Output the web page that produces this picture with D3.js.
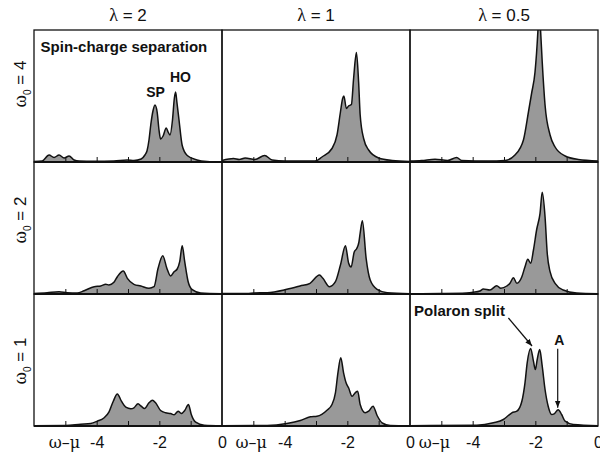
<!DOCTYPE html>
<html>
<head>
<meta charset="utf-8">
<script src="https://cdn.jsdelivr.net/npm/d3@7"></script>
<style>
  body { margin: 0; background: #fff; }
  svg { font-family: "Liberation Sans", Arial, Helvetica, sans-serif; }
  .greek { font-family: "Liberation Serif", "DejaVu Serif", serif; }
</style>
</head>
<body>
<svg id="chart" width="600" height="456"></svg>
<script>
// column / row headers
var lambdas = ['2', '1', '0.5'];
var omegas = ['4', '2', '1'];
var tickVals = [-5, -4, -3, -2, -1];
var tickLabelVals = [-4, -2, 0];

// spectra: [omega - mu, A(omega)]
var specL2W4 = [[-6, 0.005], [-5.74, 0.01], [-5.52, 0.07], [-5.36, 0.045], [-5.2, 0.07], [-5.04, 0.04], [-4.88, 0.06], [-4.72, 0.02], [-4.56, 0.01], [-4.08, 0.008], [-3.45, 0.01], [-3.03, 0.02], [-2.81, 0.015], [-2.58, 0.03], [-2.46, 0.07], [-2.39, 0.115], [-2.33, 0.22], [-2.27, 0.38], [-2.2, 0.515], [-2.14, 0.57], [-2.07, 0.5], [-2.01, 0.32], [-1.96, 0.23], [-1.88, 0.26], [-1.78, 0.34], [-1.72, 0.3], [-1.66, 0.27], [-1.58, 0.42], [-1.52, 0.64], [-1.48, 0.7], [-1.44, 0.6], [-1.37, 0.415], [-1.27, 0.165], [-1.11, 0.065], [-0.8, 0.02], [-0.48, 0.005], [0, 0]];
var specL1W4 = [[-6, 0.015], [-5.63, 0.035], [-5.45, 0.025], [-5.26, 0.04], [-4.95, 0.025], [-4.64, 0.065], [-4.4, 0.02], [-3.99, 0.01], [-3.03, 0.01], [-2.81, 0.05], [-2.49, 0.135], [-2.33, 0.27], [-2.22, 0.5], [-2.15, 0.635], [-2.11, 0.66], [-2.03, 0.535], [-1.96, 0.56], [-1.87, 0.575], [-1.8, 0.835], [-1.71, 1.095], [-1.64, 0.8], [-1.59, 0.47], [-1.48, 0.235], [-1.32, 0.12], [-1, 0.04], [-0.57, 0.015], [0, 0.005]];
var specL05W4 = [[-6, 0.01], [-5.63, 0.015], [-5.2, 0.028], [-4.8, 0.015], [-4.51, 0.045], [-4.35, 0.015], [-3.5, 0.01], [-2.97, 0.015], [-2.65, 0.07], [-2.38, 0.22], [-2.22, 0.5], [-2.12, 0.685], [-2.01, 0.9], [-1.92, 1.3], [-1.88, 1.56], [-1.83, 1.3], [-1.78, 1.0], [-1.69, 0.57], [-1.53, 0.27], [-1.37, 0.15], [-1.05, 0.06], [-0.63, 0.025], [0, 0.01]];
var specL2W2 = [[-6, 0.005], [-5.58, 0.013], [-5.2, 0.023], [-4.94, 0.013], [-4.62, 0.01], [-4.4, 0.033], [-4.08, 0.073], [-3.87, 0.08], [-3.71, 0.097], [-3.61, 0.09], [-3.45, 0.117], [-3.34, 0.173], [-3.15, 0.23], [-3.02, 0.157], [-2.81, 0.097], [-2.59, 0.08], [-2.33, 0.057], [-2.17, 0.073], [-2.04, 0.257], [-1.89, 0.383], [-1.76, 0.257], [-1.64, 0.18], [-1.53, 0.223], [-1.43, 0.25], [-1.35, 0.323], [-1.27, 0.483], [-1.19, 0.323], [-1.08, 0.123], [-0.95, 0.043], [-0.68, 0.01], [0, 0.003]];
var specL1W2 = [[-6, 0.005], [-5.2, 0.005], [-4.99, 0.01], [-4.56, 0.013], [-3.93, 0.047], [-3.51, 0.08], [-3.19, 0.107], [-2.89, 0.19], [-2.78, 0.157], [-2.57, 0.073], [-2.38, 0.123], [-2.22, 0.29], [-2.06, 0.483], [-1.96, 0.31], [-1.88, 0.27], [-1.78, 0.42], [-1.7, 0.455], [-1.63, 0.52], [-1.59, 0.61], [-1.52, 0.733], [-1.4, 0.357], [-1.27, 0.14], [-1.05, 0.047], [-0.73, 0.013], [0, 0.003]];
var specL05W2 = [[-6, 0.003], [-5.04, 0.005], [-4.2, 0.01], [-3.98, 0.017], [-3.77, 0.03], [-3.66, 0.05], [-3.45, 0.04], [-3.23, 0.083], [-3.1, 0.057], [-2.91, 0.08], [-2.81, 0.107], [-2.7, 0.163], [-2.59, 0.107], [-2.43, 0.173], [-2.33, 0.273], [-2.24, 0.347], [-2.15, 0.307], [-2.06, 0.44], [-1.96, 0.64], [-1.85, 0.807], [-1.78, 1.017], [-1.69, 0.773], [-1.62, 0.407], [-1.53, 0.223], [-1.37, 0.107], [-1.11, 0.04], [-0.68, 0.01], [0, 0.003]];
var specL2W1 = [[-6, 0.003], [-4.99, 0.005], [-4.51, 0.018], [-4.19, 0.025], [-3.98, 0.048], [-3.77, 0.08], [-3.61, 0.138], [-3.47, 0.248], [-3.34, 0.32], [-3.21, 0.248], [-3.07, 0.188], [-2.91, 0.172], [-2.81, 0.182], [-2.68, 0.222], [-2.58, 0.198], [-2.47, 0.175], [-2.33, 0.232], [-2.22, 0.258], [-2.12, 0.232], [-1.96, 0.155], [-1.8, 0.132], [-1.64, 0.125], [-1.53, 0.112], [-1.4, 0.148], [-1.3, 0.125], [-1.19, 0.155], [-1.07, 0.215], [-0.98, 0.115], [-0.84, 0.038], [-0.57, 0.008], [0, 0.002]];
var specL1W1 = [[-6, 0.003], [-4.56, 0.005], [-3.93, 0.025], [-3.5, 0.055], [-3.18, 0.092], [-2.97, 0.098], [-2.65, 0.158], [-2.49, 0.215], [-2.38, 0.332], [-2.3, 0.532], [-2.21, 0.682], [-2.12, 0.532], [-2.04, 0.432], [-1.96, 0.382], [-1.85, 0.298], [-1.75, 0.332], [-1.67, 0.348], [-1.59, 0.215], [-1.43, 0.132], [-1.32, 0.148], [-1.18, 0.198], [-1.05, 0.105], [-0.89, 0.032], [-0.63, 0.005], [0, 0.002]];
var specL05W1 = [[-6, 0.003], [-3.87, 0.008], [-3.34, 0.032], [-3.02, 0.065], [-2.86, 0.105], [-2.75, 0.132], [-2.59, 0.148], [-2.43, 0.248], [-2.33, 0.432], [-2.26, 0.632], [-2.15, 0.775], [-2.06, 0.648], [-2, 0.565], [-1.94, 0.665], [-1.86, 0.765], [-1.78, 0.598], [-1.69, 0.365], [-1.59, 0.198], [-1.48, 0.115], [-1.4, 0.122], [-1.27, 0.162], [-1.16, 0.115], [-1.05, 0.048], [-0.79, 0.015], [0, 0.003]];

// rows = omega_0 (4, 2, 1), columns = lambda (2, 1, 0.5)
var spectra = [
    [specL2W4, specL1W4, specL05W4],
    [specL2W2, specL1W2, specL05W2],
    [specL2W1, specL1W1, specL05W1]
];

var marginLeft = 34, marginTop = 30, pw = 188, ph = 132;
var svg = d3.select('#chart');

var x = d3.scaleLinear().domain([-6, 0]).range([0, pw]);
var y = d3.scaleLinear().domain([0, 1.32]).range([ph, 0]);

var area = d3.area()
    .x(function (d) { return x(d[0]); })
    .y0(y(0))
    .y1(function (d) { return y(d[1]); })
    .curve(d3.curveMonotoneX);
var line = d3.line()
    .x(function (d) { return x(d[0]); })
    .y(function (d) { return y(d[1]); })
    .curve(d3.curveMonotoneX);

var defs = svg.append('defs');
defs.append('clipPath')
    .attr('id', 'panel-clip')
    .append('rect')
    .attr('width', pw)
    .attr('height', ph);

var panels = {};
spectra.forEach(function (row, r) {
    row.forEach(function (data, c) {
        var g = svg.append('g')
            .attr('transform', 'translate(' + (marginLeft + c * pw) + ',' + (marginTop + r * ph) + ')');
        panels[r + '_' + c] = g;

        var plot = g.append('g').attr('clip-path', 'url(#panel-clip)');
        plot.append('path')
            .datum(data)
            .attr('d', area)
            .attr('fill', '#999');
        plot.append('path')
            .datum(data)
            .attr('d', line)
            .attr('fill', 'none')
            .attr('stroke', '#111')
            .attr('stroke-width', 1.5)
            .attr('stroke-linejoin', 'round');

        // inward ticks
        var ax = g.append('g')
            .attr('transform', 'translate(0,' + ph + ')')
            .call(d3.axisBottom(x).tickValues(tickVals).tickSize(-5).tickFormat(''));
        ax.select('.domain').remove();
        ax.selectAll('line').attr('stroke', '#111').attr('stroke-width', 1);

        g.append('rect')
            .attr('width', pw)
            .attr('height', ph)
            .attr('fill', 'none')
            .attr('stroke', '#111')
            .attr('stroke-width', 1.3);
        g.append('line')
            .attr('x1', 0).attr('x2', pw)
            .attr('y1', ph).attr('y2', ph)
            .attr('stroke', '#111')
            .attr('stroke-width', 2);

        // tick labels only under the bottom row
        if (r === 2) {
            var lab = g.append('g')
                .attr('transform', 'translate(0,' + ph + ')')
                .call(d3.axisBottom(x).tickValues(tickLabelVals).tickSize(0).tickPadding(11)
                    .tickFormat(function (d) { return String(d); }));
            lab.select('.domain').remove();
            lab.selectAll('text')
                .attr('font-family', '"Liberation Sans", Arial, sans-serif')
                .attr('font-size', 16)
                .attr('fill', '#111');
        }
    });
});

// column titles
lambdas.forEach(function (l, c) {
    var t = svg.append('text')
        .attr('x', marginLeft + c * pw + pw / 2)
        .attr('y', 21)
        .attr('text-anchor', 'middle')
        .attr('font-size', 17)
        .attr('fill', '#111');
    t.append('tspan').attr('class', 'greek').attr('font-size', 18).text('\u03bb');
    t.append('tspan').text(' = ' + l);
});

// row titles
var rowLabelY = [84, 220, 361];
omegas.forEach(function (w, r) {
    var t = svg.append('text')
        .attr('transform', 'translate(25.5,' + rowLabelY[r] + ') rotate(-90)')
        .attr('text-anchor', 'middle')
        .attr('font-size', 17)
        .attr('fill', '#111');
    t.append('tspan').attr('class', 'greek').attr('font-size', 19).text('\u03c9');
    t.append('tspan').attr('font-size', 10).attr('dy', 5).text('0');
    t.append('tspan').attr('dy', -5).text(' = ' + w);
});

// omega - mu labels on the bottom axis
var muLabelX = [-5.03, -5.07, -5.22];
muLabelX.forEach(function (v, c) {
    svg.append('text')
        .attr('x', marginLeft + c * pw + x(v))
        .attr('y', marginTop + 3 * ph + 22)
        .attr('text-anchor', 'middle')
        .attr('font-family', '"DejaVu Serif", serif')
        .attr('font-size', 16)
        .attr('fill', '#111')
        .text('\u03c9\u2013\u03bc');
});

// annotations
defs.append('marker')
    .attr('id', 'arrow')
    .attr('viewBox', '0 0 10 10')
    .attr('refX', 10).attr('refY', 5)
    .attr('markerWidth', 7).attr('markerHeight', 7)
    .attr('markerUnits', 'userSpaceOnUse')
    .attr('orient', 'auto')
    .append('path')
    .attr('d', 'M0,1 L10,5 L0,9 Z')
    .attr('fill', '#111');

function note(g, text, xv, yv, size) {
    g.append('text')
        .attr('x', x(xv)).attr('y', y(yv))
        .attr('font-size', size)
        .attr('font-weight', 'bold')
        .attr('fill', '#111')
        .text(text);
}
function arrow(g, x1, y1, x2, y2) {
    g.append('line')
        .attr('x1', x(x1)).attr('y1', y(y1))
        .attr('x2', x(x2)).attr('y2', y(y2))
        .attr('stroke', '#111')
        .attr('stroke-width', 1.2)
        .attr('marker-end', 'url(#arrow)');
}

note(panels['0_0'], 'Spin-charge separation', -5.79, 1.105, 15);
note(panels['0_0'], 'SP', -2.42, 0.648, 14);
note(panels['0_0'], 'HO', -1.66, 0.805, 14);
note(panels['2_2'], 'Polaron split', -5.87, 1.105, 15);
note(panels['2_2'], 'A', -1.4, 0.815, 14);
arrow(panels['2_2'], -2.86, 1.08, -2.106, 0.8);
arrow(panels['2_2'], -1.286, 0.772, -1.286, 0.182);
</script>
</body>
</html>
